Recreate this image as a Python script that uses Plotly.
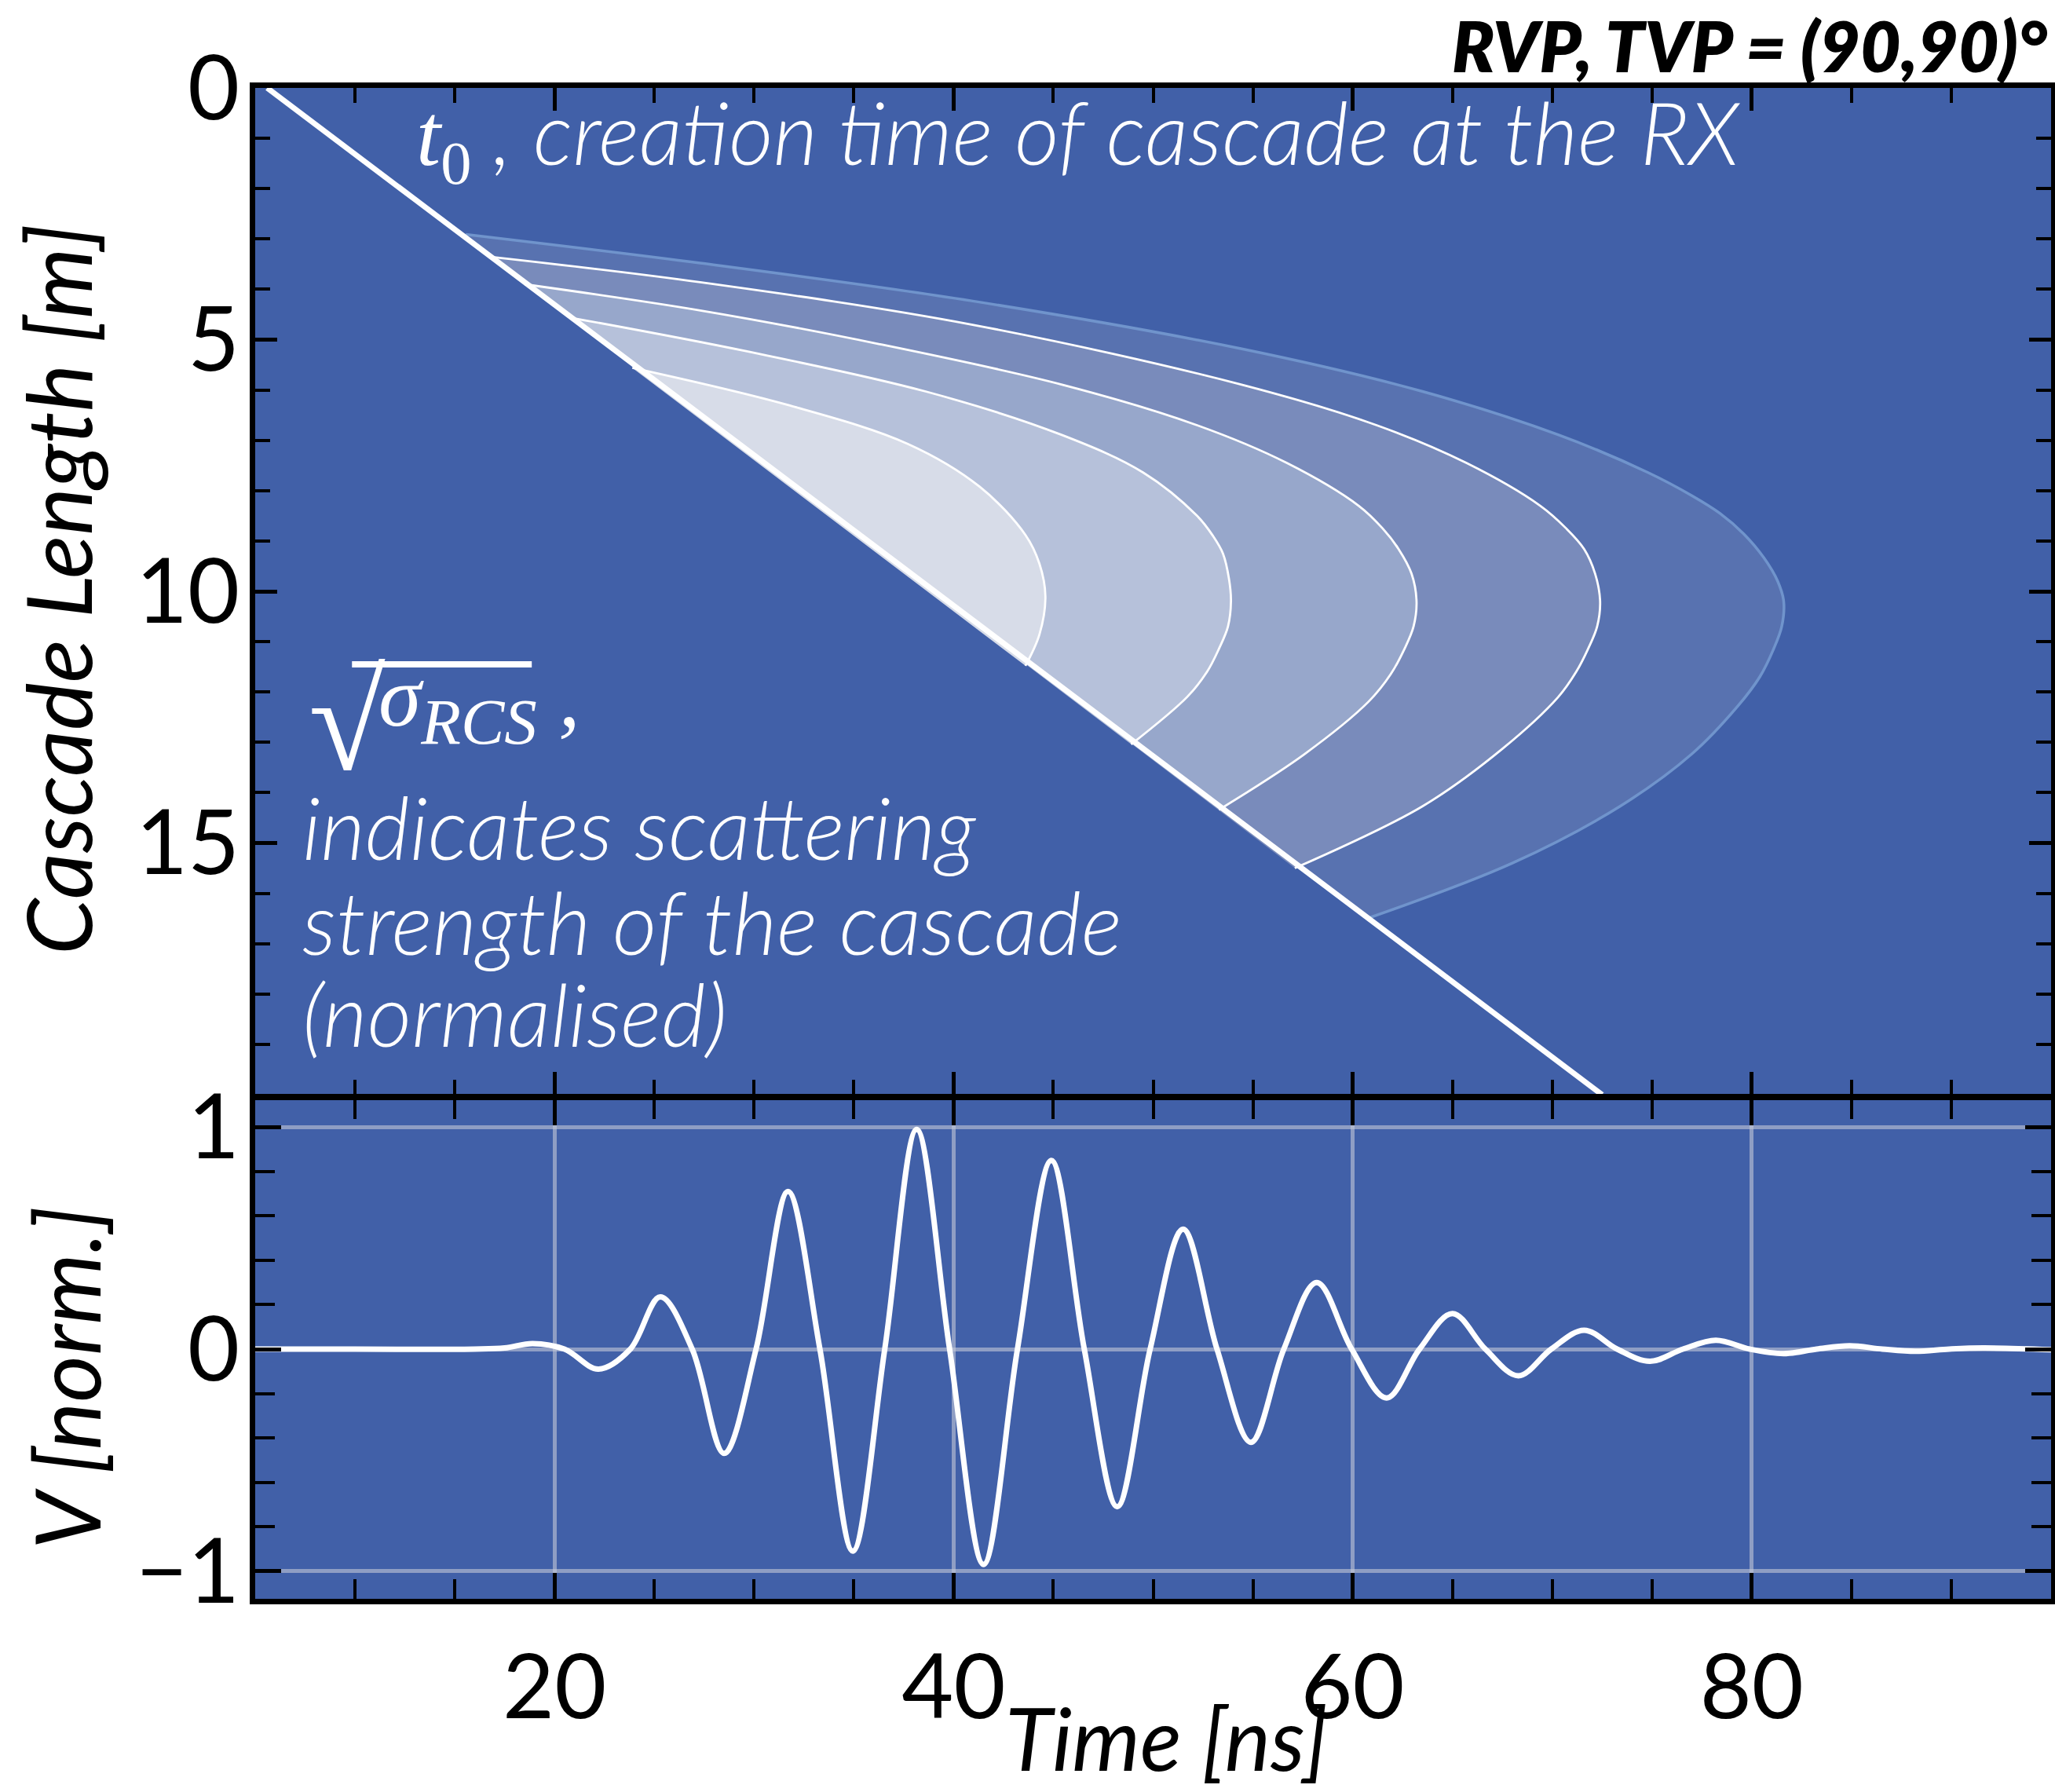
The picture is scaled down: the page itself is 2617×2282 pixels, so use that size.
import plotly.graph_objects as go

# ---------------- data ----------------
# t0 line (creation time of cascade at the RX)
t_diag = [5.6, 72.5]
L_diag = [0.0, 20.0]

# nested sigma_RCS contour regions (outer -> inner): time [ns], cascade length [m]
t_c1 = [15.55, 27.3, 40.9, 54.4, 63.5, 70.3, 74.8, 77.0, 78.4, 79.6, 80.6, 81.3, 81.6,
        81.5, 81.1, 80.4, 79.3, 77.0, 73.4, 68.0, 60.8]
L_c1 = [2.91, 3.48, 4.23, 5.18, 6.03, 6.89, 7.64, 8.10, 8.45, 8.86, 9.33, 9.80, 10.2,
        10.70, 11.14, 11.70, 12.28, 13.23, 14.27, 15.40, 16.49]

t_c2 = [16.9, 27.3, 40.9, 54.4, 61.2, 65.7, 69.4, 70.7, 71.6, 72.15, 72.4,
        72.25, 71.8, 71.2, 70.3, 67.5, 63.5, 57.1]
L_c2 = [3.36, 3.86, 4.70, 5.89, 6.70, 7.45, 8.30, 8.75, 9.16, 9.65, 10.2,
        10.70, 11.14, 11.60, 12.10, 13.13, 14.27, 15.50]

t_c3 = [18.5, 27.3, 36.3, 45.4, 52.2, 56.7, 60.3, 61.5, 62.3, 62.95, 63.2,
        63.05, 62.6, 61.9, 60.8, 57.6, 53.3]
L_c3 = [3.90, 4.42, 5.09, 5.89, 6.70, 7.45, 8.30, 8.75, 9.16, 9.65, 10.2,
        10.70, 11.14, 11.65, 12.19, 13.23, 14.34]

t_c4 = [20.75, 29.6, 38.6, 45.4, 49.5, 52.2, 53.0, 53.5, 53.8, 53.9,
        53.75, 53.3, 52.7, 51.7, 48.9]
L_c4 = [4.56, 5.23, 6.03, 6.89, 7.64, 8.50, 8.90, 9.25, 9.75, 10.2,
        10.70, 11.14, 11.60, 12.10, 13.04]

t_c5 = [23.9, 31.8, 37.7, 41.3, 43.6, 44.3, 44.6, 44.3, 43.6]
L_c5 = [5.56, 6.31, 7.07, 7.92, 8.88, 9.45, 10.1, 10.86, 11.48]

# received voltage waveform (normalised)
t_wave = [5.0, 10.0, 16.0, 17.5, 18.9, 20.5, 22.2, 23.8, 25.3, 26.9, 28.5, 30.1, 31.7, 33.3,
          34.95, 36.55, 38.15, 39.8, 41.5, 43.2, 44.9, 46.55, 48.2, 49.85, 51.5, 53.2, 54.9,
          56.55, 58.2, 59.95, 61.7, 63.35, 65.0, 66.65, 68.3, 69.95, 71.6, 73.25, 74.9, 76.55,
          78.2, 79.9, 81.6, 83.25, 84.9, 86.55, 88.2, 89.9, 91.6, 95.0]
v_wave = [0.0, 0.0, 0.0, 0.005, 0.025, 0.0, -0.09, 0.0, 0.235, 0.0, -0.47, 0.0, 0.71, 0.0,
          -0.91, 0.0, 0.99, 0.0, -0.97, 0.0, 0.85, 0.0, -0.71, 0.0, 0.54, 0.0, -0.42,
          0.0, 0.30, 0.0, -0.22, 0.0, 0.16, 0.0, -0.12, 0.0, 0.085, 0.0, -0.055, 0.0,
          0.04, 0.0, -0.02, 0.0, 0.015, 0.0, -0.01, 0.0, 0.005, -0.003]

x_tickvals = [20, 40, 60, 80]
y1_tickvals = [0, 5, 10, 15]
y2_tickvals = [-1, 0, 1]
y2_ticktext = ["\u22121", "0", "1"]

# ---------------- styling ----------------
W, H = 2617, 2282
BG = "#4160a8"
FONT = "Lato"
SERIF = "Liberation Serif"

left, right = 325 / W, 2612 / W
top_dom = [1 - 1394 / H, 1 - 112 / H]
bot_dom = [1 - 2036 / H, 1 - 1400 / H]

fig = go.Figure()

fills = [
    (t_c1, L_c1, "rgb(88,114,176)", "rgb(112,148,204)", 3.5),
    (t_c2, L_c2, "rgb(121,139,187)", "white", 2.8),
    (t_c3, L_c3, "rgb(151,167,203)", "white", 2.8),
    (t_c4, L_c4, "rgb(182,193,218)", "white", 2.8),
    (t_c5, L_c5, "rgb(215,220,232)", "white", 2.8),
]
for tx, ly, fc, lc, lw in fills:
    fig.add_trace(go.Scatter(x=tx, y=ly, mode="lines", fill="toself", fillcolor=fc,
                             line=dict(color=lc, width=lw, shape="spline", smoothing=1.0),
                             hoverinfo="skip", showlegend=False, xaxis="x", yaxis="y"))

fig.add_trace(go.Scatter(x=t_diag, y=L_diag, mode="lines",
                         line=dict(color="white", width=7),
                         showlegend=False, xaxis="x", yaxis="y"))

fig.add_trace(go.Scatter(x=t_wave, y=v_wave, mode="lines",
                         line=dict(color="white", width=7, shape="spline", smoothing=1.0),
                         showlegend=False, xaxis="x2", yaxis="y2"))

axis_common = dict(showline=True, linecolor="black", linewidth=7, mirror="allticks",
                   ticks="inside", tickcolor="black", zeroline=False, automargin=False,
                   tickfont=dict(family=FONT, size=114, color="black"))

grid_col = "rgba(195,200,215,0.6)"

fig.update_layout(
    width=W, height=H,
    margin=dict(l=0, r=0, t=0, b=0, pad=0),
    paper_bgcolor="white", plot_bgcolor=BG,
    showlegend=False,
    xaxis=dict(domain=[left, right], range=[5, 95], anchor="y",
               tickvals=x_tickvals, ticklen=29, tickwidth=5, showticklabels=False,
               showgrid=False,
               minor=dict(ticks="inside", dtick=5, tick0=0, ticklen=19, tickwidth=4,
                          tickcolor="black", showgrid=False),
               **axis_common),
    yaxis=dict(domain=top_dom, range=[20, 0], anchor="x",
               tickvals=y1_tickvals, ticklen=28, tickwidth=5, showgrid=False,
               ticklabelstandoff=-10,
               minor=dict(ticks="inside", dtick=1, tick0=0, ticklen=19, tickwidth=4,
                          tickcolor="black", showgrid=False),
               **axis_common),
    xaxis2=dict(domain=[left, right], range=[5, 95], anchor="y2",
                tickvals=x_tickvals, ticklen=33, tickwidth=5,
                ticklabelstandoff=8,
                showgrid=True, gridcolor=grid_col, gridwidth=5,
                minor=dict(ticks="inside", dtick=5, tick0=0, ticklen=25, tickwidth=4,
                           tickcolor="black", showgrid=False),
                **axis_common),
    yaxis2=dict(domain=bot_dom, range=[-1.125, 1.125], anchor="x2",
                tickvals=y2_tickvals, ticktext=y2_ticktext, ticklen=33, tickwidth=5,
                ticklabelstandoff=-10,
                showgrid=True, gridcolor=grid_col, gridwidth=5,
                minor=dict(ticks="inside", dtick=0.2, tick0=0, ticklen=25, tickwidth=4,
                           tickcolor="black", showgrid=False),
                **axis_common),
)

light_white = dict(family=FONT, size=110, color="white", style="italic", weight=300)
title_font = dict(family=FONT, size=115, color="black", style="italic")

annotations = [
    dict(text="RVP, TVP = (90,90)°", xref="paper", yref="paper", x=2610 / W, y=1 - 57 / H,
         xanchor="right", yanchor="middle", showarrow=False,
         font=dict(family=FONT, size=89, color="black", style="italic", weight=800)),
    dict(text="Cascade Length [m]", xref="paper", yref="paper", x=72 / W, y=1 - 751 / H,
         xanchor="center", yanchor="middle", textangle=-90, showarrow=False, font=title_font),
    dict(text="V [norm.]", xref="paper", yref="paper", x=83 / W, y=1 - 1755 / H,
         xanchor="center", yanchor="middle", textangle=-90, showarrow=False, font=title_font),
    dict(text="Time [ns]", xref="paper", yref="paper", x=1485 / W, y=1 - 2212 / H,
         xanchor="center", yanchor="middle", showarrow=False,
         font=dict(family=FONT, size=110, color="black", style="italic")),
    dict(text=f"<span style=\"font-family:'{SERIF}';font-size:112px;font-weight:400\">t"
              "<sub><span style='font-style:normal'>0</span></sub></span> , creation time of cascade at the RX",
         xref="x", yref="y", x=13.0, y=1.0, xanchor="left", yanchor="middle",
         showarrow=False, font=light_white),
    dict(text="√", xref="x", yref="y", x=7.6, y=12.61, xanchor="left", yanchor="middle",
         showarrow=False,
         font=dict(family=SERIF, size=178, color="white", style="normal", weight=400)),
    dict(text="σ<sub><span style='font-size:83px'>RCS</span></sub> ,",
         xref="x", yref="y", x=11.1, y=12.23, xanchor="left", yanchor="middle",
         showarrow=False,
         font=dict(family=SERIF, size=110, color="white", style="italic", weight=400)),
    dict(text="indicates scattering", xref="x", yref="y", x=7.3, y=14.67,
         xanchor="left", yanchor="middle", showarrow=False, font=light_white),
    dict(text="strength of the cascade", xref="x", yref="y", x=7.3, y=16.55,
         xanchor="left", yanchor="middle", showarrow=False, font=light_white),
    dict(text="(normalised)", xref="x", yref="y", x=7.3, y=18.37,
         xanchor="left", yanchor="middle", showarrow=False, font=light_white),
]
fig.update_layout(annotations=annotations)

# overline of the square-root sign
fig.add_shape(type="line", xref="x", yref="y", x0=9.85, x1=18.86, y0=11.45, y1=11.45,
              line=dict(color="white", width=8))

fig.write_html("out.html")
